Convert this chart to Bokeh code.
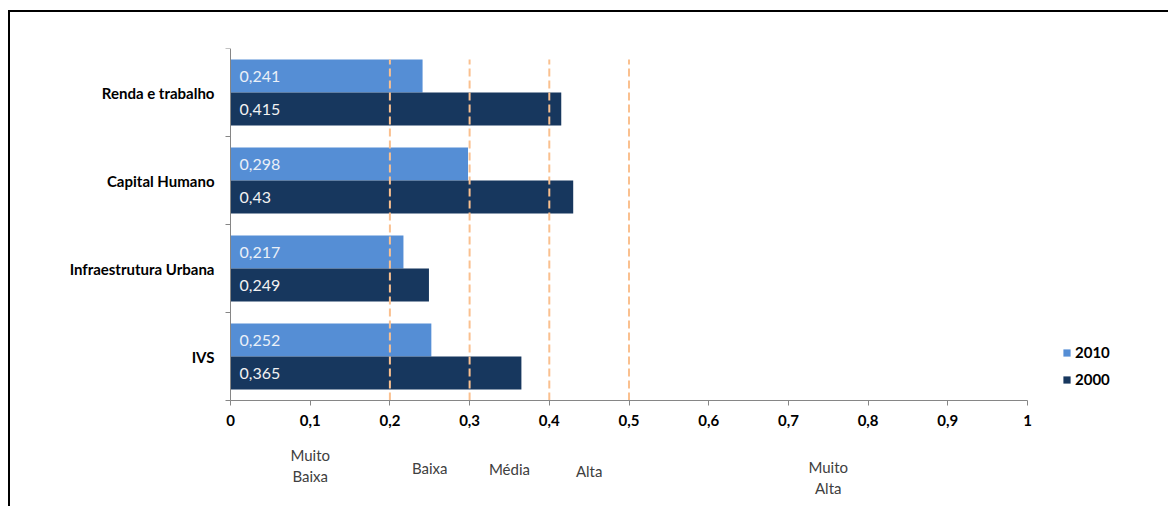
from bokeh.plotting import figure
from bokeh.models import (Range1d, LinearAxis, FixedTicker,
                          ColumnDataSource, Legend, LegendItem, Div, Spacer)
from bokeh.layouts import column, row
from bokeh.transform import dodge
from bokeh.core.properties import value
from bokeh.embed import file_html
from bokeh.resources import INLINE

# ---------------- data ----------------
categories = ["Renda e trabalho", "Capital Humano", "Infraestrutura Urbana", "IVS"]
values_2010 = [0.241, 0.298, 0.217, 0.252]
values_2000 = [0.415, 0.43, 0.249, 0.365]
series_names = ["2010", "2000"]
thresholds = [0.2, 0.3, 0.4, 0.5]
class_labels = ["Muito\nBaixa", "Baixa", "Média", "Alta", "Muito\nAlta"]
class_bounds = [0.0, 0.2, 0.3, 0.4, 0.5, 1.0]
x_ticks = [0, 0.1, 0.2, 0.3, 0.4, 0.5, 0.6, 0.7, 0.8, 0.9, 1]
x_tick_labels = ["0", "0,1", "0,2", "0,3", "0,4", "0,5", "0,6", "0,7", "0,8", "0,9", "1"]

# ---------------- style ----------------
FONT = "Lato"
C2010 = "#558ED5"
C2000 = "#17375E"
DASH = "#FAC08F"
AXIS = "#868686"
OFF = 0.1875
H = 0.375
PX_PER_X = 797.0        # pixels for one x unit
PX_PER_Y = 88.0         # pixels for one category band
LEFT_PX = 16.0          # room left of x = 0 inside the frame
RIGHT_PX = 141.0        # room right of x = 1
BELOW_PX = 106.0        # room below the axis
CLASS_LABEL_PX = [65, 67, 68, 70, 77]   # vertical centre of class labels below axis

def fmt(v):
    return ("%g" % v).replace(".", ",")

n = len(categories)
centers = [n - 0.5 - i for i in range(n)]   # first category at the top
src = ColumnDataSource(dict(
    yc=centers,
    v2010=values_2010,
    v2000=values_2000,
    l2010=[fmt(v) for v in values_2010],
    l2000=[fmt(v) for v in values_2000],
))

p = figure(width=1158, height=494, output_backend="svg", toolbar_location=None,
           y_range=Range1d(-BELOW_PX / PX_PER_Y, n),
           x_range=Range1d(-LEFT_PX / PX_PER_X, 1 + RIGHT_PX / PX_PER_X),
           y_axis_location=None,
           min_border_left=int(220 - LEFT_PX), min_border_top=36,
           min_border_bottom=0, min_border_right=0)
p.outline_line_color = None
p.grid.visible = False
p.background_fill_color = "white"
p.border_fill_color = "white"

r1 = p.hbar(y=dodge("yc", OFF), left=0, right="v2010", height=H,
            source=src, fill_color=C2010, line_color=None)
r2 = p.hbar(y=dodge("yc", -OFF), left=0, right="v2000", height=H,
            source=src, fill_color=C2000, line_color=None)

p.text(x=0, y=dodge("yc", OFF), text="l2010", source=src,
       x_offset=9, text_baseline="middle", text_align="left",
       text_font=value(FONT), text_font_size="16px", text_color="#EAF0F8")
p.text(x=0, y=dodge("yc", -OFF), text="l2000", source=src,
       x_offset=9, text_baseline="middle", text_align="left",
       text_font=value(FONT), text_font_size="16px", text_color="#F2F2F2")

top = n - 0.5 + OFF + H / 2
p.segment(x0=thresholds, x1=thresholds, y0=0, y1=top, line_color=DASH,
          line_width=2, line_dash="8 4")

# x axis, fixed at y = 0
xa = p.xaxis[0]
xa.fixed_location = 0
xa.bounds = (0, 1)
xa.ticker = FixedTicker(ticks=x_ticks)
xa.major_label_overrides = dict(zip(x_ticks, x_tick_labels))
xa.axis_line_color = AXIS
xa.major_tick_line_color = AXIS
xa.major_tick_out = 5
xa.major_tick_in = 0
xa.minor_tick_line_color = None
xa.major_label_standoff = 9
xa.major_label_text_font = FONT
xa.major_label_text_font_style = "bold"
xa.major_label_text_font_size = "15px"
xa.major_label_text_color = "black"

# y axis: separator ticks (fixed at x = 0) + category labels
sep_ticks = list(range(n + 1))
sa = LinearAxis(ticker=FixedTicker(ticks=sep_ticks), bounds=(0, n), fixed_location=0,
                major_label_overrides={t: "" for t in sep_ticks},
                major_label_text_font_size="0px", major_label_standoff=0,
                axis_line_color=AXIS, major_tick_line_color=AXIS,
                major_tick_out=5, major_tick_in=0, minor_tick_line_color=None)
p.add_layout(sa, "left")
ca = LinearAxis(ticker=FixedTicker(ticks=centers),
                major_label_overrides=dict(zip(centers, categories)),
                axis_line_color=None, major_tick_line_color=None,
                minor_tick_line_color=None,
                major_label_standoff=-6, major_label_text_font=FONT,
                major_label_text_font_style="bold",
                major_label_text_font_size="15px",
                major_label_text_color="black")
p.add_layout(ca, "left")

# class labels below the axis
mids = [(class_bounds[i] + class_bounds[i + 1]) / 2 for i in range(len(class_labels))]
lab_src = ColumnDataSource(dict(
    x=mids,
    y=[-v / PX_PER_Y for v in CLASS_LABEL_PX],
    t=class_labels,
))
p.text(x="x", y="y", text="t", source=lab_src, text_align="center",
       text_baseline="middle", text_font=value(FONT), text_font_size="15px",
       text_color="#404040", text_line_height=1.15)

legend = Legend(items=[LegendItem(label=series_names[0], renderers=[r1]),
                       LegendItem(label=series_names[1], renderers=[r2])],
                location=(int(832 + LEFT_PX), 118), orientation="vertical",
                glyph_width=9, glyph_height=9, label_height=18, spacing=9,
                label_standoff=4, padding=0, margin=0,
                border_line_color=None, background_fill_alpha=0,
                label_text_font=FONT, label_text_font_style="bold",
                label_text_font_size="15px", label_text_color="black")
p.add_layout(legend, "center")

top_line = Div(width=1160, height=2, margin=0, styles={"background-color": "black"})
left_line = Div(width=2, height=494, margin=0, styles={"background-color": "black"})
layout = column(Spacer(height=10, margin=0),
                row(Spacer(width=8, margin=0),
                    column(top_line, row(left_line, p, margin=0), margin=0),
                    margin=0),
                margin=0)

open("out.html", "w").write(file_html(layout, INLINE))
